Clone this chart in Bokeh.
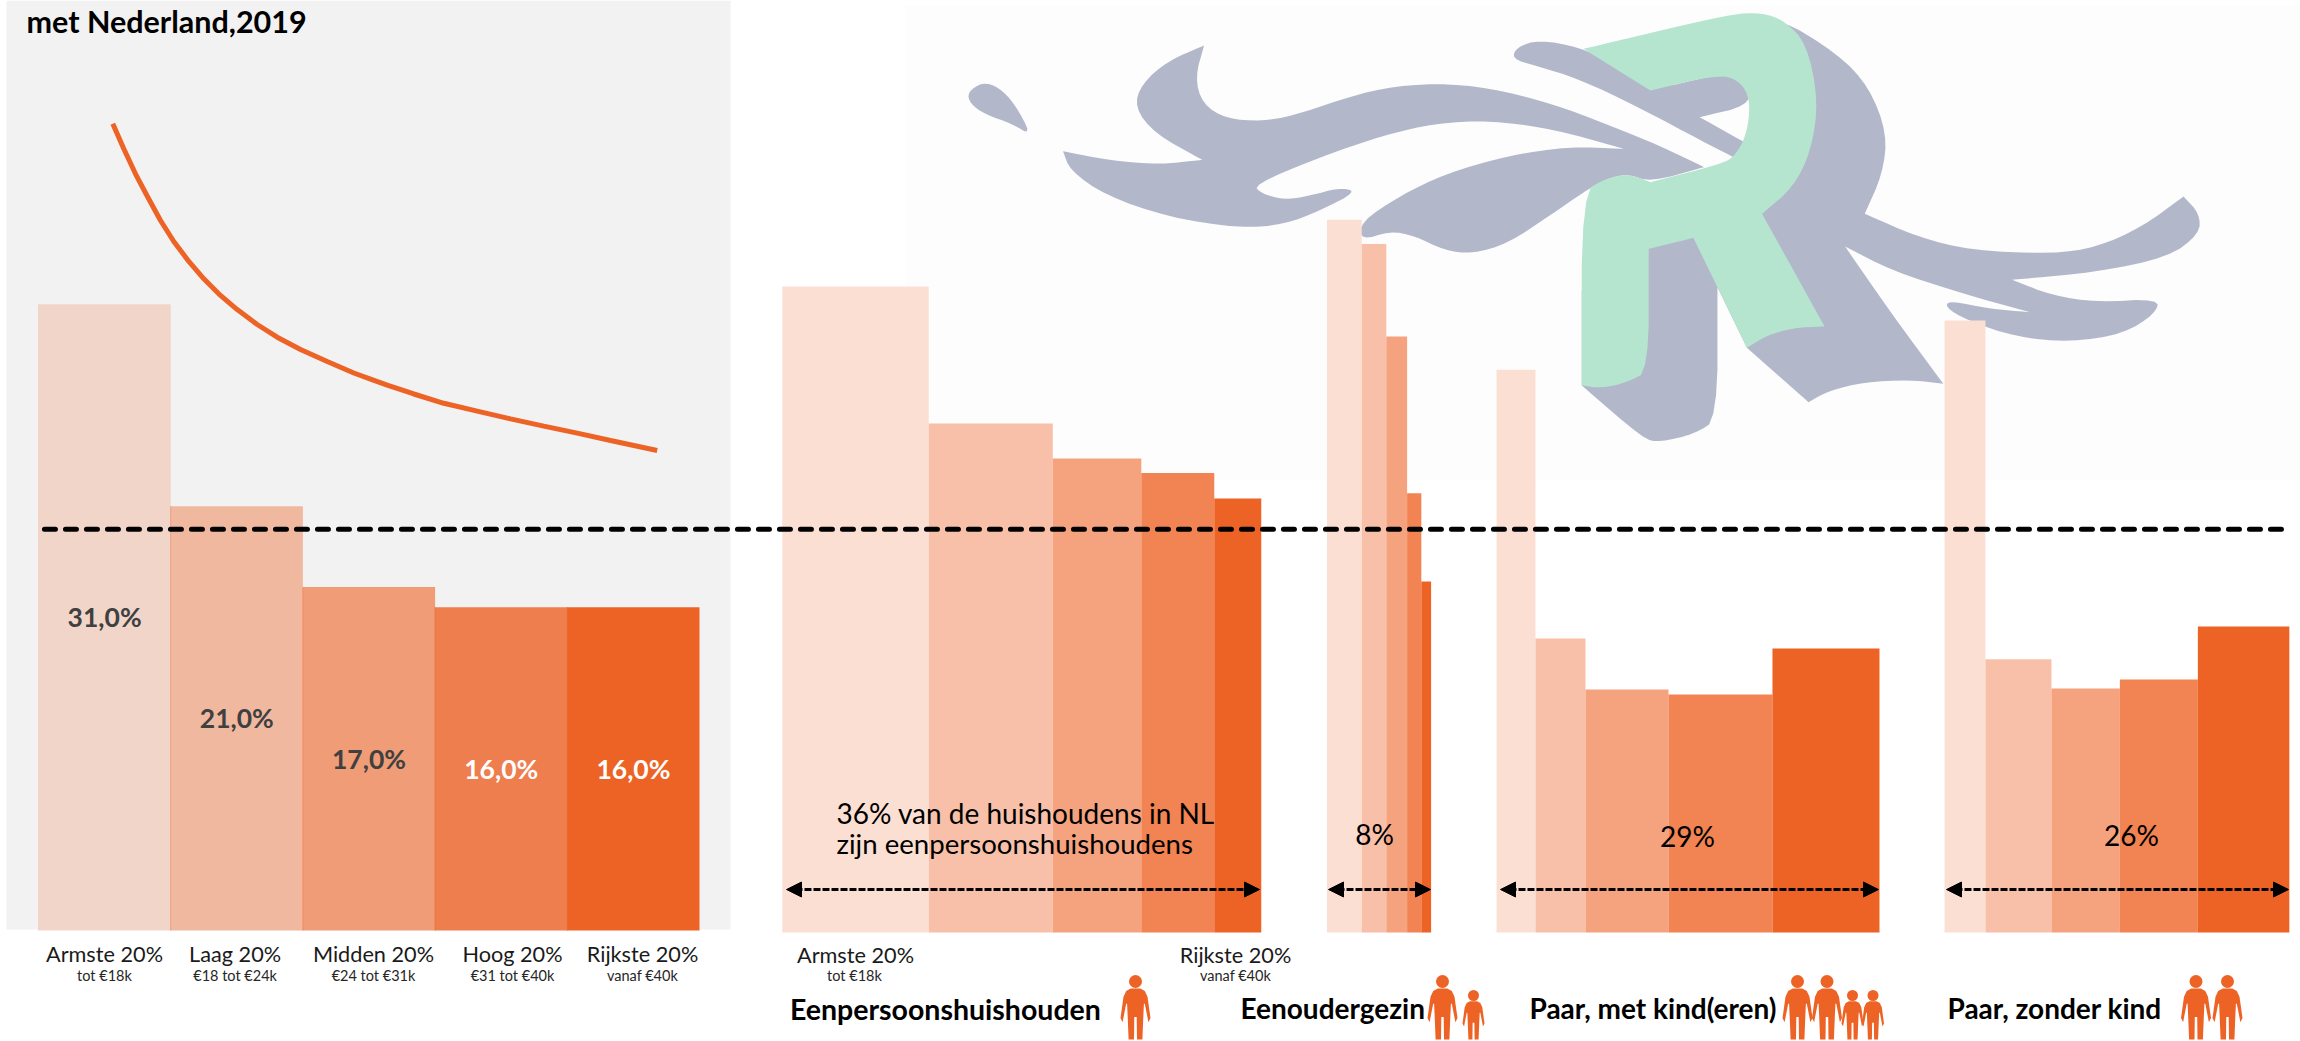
from bokeh.plotting import figure
from bokeh.models import Range1d, Arrow, NormalHead
from bokeh.core.properties import value
from bokeh.embed import file_html
from bokeh.resources import INLINE

# ---------- data ----------
title = "met Nederland,2019"
group_labels = ["Armste 20%", "Laag 20%", "Midden 20%", "Hoog 20%", "Rijkste 20%"]
group_subs = ["tot €18k", "€18 tot €24k", "€24 tot €31k", "€31 tot €40k", "vanaf €40k"]
nl_widths = [20, 20, 20, 20, 20]
nl_values = [31, 21, 17, 16, 16]
nl_value_labels = ["31,0%", "21,0%", "17,0%", "16,0%", "16,0%"]

single_widths = [22.16, 18.76, 13.39, 11.04, 7.11]
single_values = [31.98, 25.20, 23.46, 22.75, 21.49]
parent_widths = [5.25, 3.72, 3.15, 2.15, 1.48]
parent_values = [35.28, 34.09, 29.50, 21.75, 17.38]
kids_widths = [5.90, 7.56, 12.56, 15.73, 16.19]
kids_values = [27.86, 14.55, 12.03, 11.78, 14.06]
couple_widths = [6.20, 9.98, 10.35, 11.80, 13.84]
couple_values = [30.30, 13.53, 12.08, 12.52, 15.15]

curve_x = [11.24, 12.90, 14.67, 16.44, 18.46, 20.47, 22.74, 25.01, 27.53, 30.06, 33.09, 36.11, 39.64, 43.68, 47.70,
           50.23, 52.75, 56.78, 61.32, 66.37, 71.41, 76.44, 81.50, 86.54, 93.60]
curve_y = [39.94, 38.70, 37.46, 36.36, 35.15, 34.11, 33.12, 32.26, 31.44, 30.74, 30.00, 29.37, 28.76, 28.17, 27.60,
           27.30, 27.00, 26.56, 26.10, 25.71, 25.33, 24.97, 24.62, 24.26, 23.76]
average_line = 19.87

panel_names = ["Eenpersoonshuishouden", "Eenoudergezin", "Paar, met kind(eren)", "Paar, zonder kind"]
panel_notes = ["36% van de huishoudens in NL", "zijn eenpersoonshuishoudens", "8%", "29%", "26%"]

# ---------- style / layout ----------
L, T, R, B = 0, 0, 2300, 1041
ORANGE = "#ed6325"
LEFT_COLORS = ["#f2d5c9", "#f1b8a0", "#f09c76", "#ef7e4f", ORANGE]
LEFT_EDGES = ["#f2d5c9", "#ec9f7f", "#ee8a5f", "#ec6f38", ORANGE]
RIGHT_COLORS = ["#fcdfd3", "#f8c0a9", "#f5a27e", "#f28352", ORANGE]
FONT = value("Lato")
PX_X, PX_Y = 6.61, 20.2
BASE_L, BASE_R = 930, 932

p = figure(width=R - L, height=B - T, output_backend="svg", toolbar_location=None,
           x_range=Range1d(L, R), y_range=Range1d(B, T), min_border=0, outline_line_color=None,
           background_fill_color="white", border_fill_color="white")
p.axis.visible = False
p.grid.visible = False

origins = {"nl": 38, "single": 781.8, "parent": 1326.5, "kids": 1496, "couple": 1944}
p.extra_x_ranges = {k: Range1d((L - o) / PX_X, (R - o) / PX_X) for k, o in origins.items()}
p.extra_y_ranges = {
    "nl_y": Range1d((BASE_L - B) / PX_Y, (BASE_L - T) / PX_Y),
    "hh_y": Range1d((BASE_R - B) / PX_Y, (BASE_R - T) / PX_Y),
}

# backgrounds
p.quad(left=[6], right=[730], top=[T], bottom=[929], fill_color="#f2f2f2", line_color=None)
p.quad(left=[905], right=[R], top=[5], bottom=[480], fill_color="#fdfdfd", line_color=None)


# watermark logo
def smooth(pts, n=2):
    for _ in range(n):
        out = []
        for i, a in enumerate(pts):
            b = pts[(i + 1) % len(pts)]
            out.append((0.75 * a[0] + 0.25 * b[0], 0.75 * a[1] + 0.25 * b[1]))
            out.append((0.25 * a[0] + 0.75 * b[0], 0.25 * a[1] + 0.75 * b[1]))
        pts = out
    return [900 + q[0] / 1.12 for q in pts], [q[1] / 3 for q in pts]


logo_gray = [
    [(92, 245), (110, 260), (128, 310), (147, 405), (125, 370), (95, 342), (78, 310), (75, 275)],
    [(340, 135), (340, 135), (330, 230), (338, 310), (365, 355), (405, 362), (440, 345), (490, 300), (540, 262), (600, 248),
     (660, 262), (730, 310), (790, 370), (850, 435), (900, 500), (900, 500), (840, 545), (815, 520), (790, 535), (765, 575),
     (730, 640), (680, 730), (640, 760), (610, 750), (575, 705), (548, 692), (516, 720), (515, 665), (560, 585),
     (610, 520), (680, 465), (750, 438), (810, 445), (810, 445), (730, 385), (660, 360), (600, 368), (540, 405), (470, 470),
     (395, 553), (405, 580), (430, 598), (460, 585), (490, 562), (512, 572), (470, 630), (430, 672), (380, 683),
     (300, 650), (230, 585), (190, 510), (182, 452), (182, 452), (235, 480), (290, 492), (338, 478), (338, 478), (285, 400), (262, 320),
     (270, 250), (300, 180)],
    [(715, 118), (690, 140), (685, 175), (710, 195), (760, 235), (830, 325), (900, 425), (933, 470), (933, 470), (945, 425), (945, 425),
     (895, 350), (895, 350), (950, 315), (950, 260), (930, 225), (915, 222), (840, 270), (800, 190), (760, 140)],
    [(980, 45), (1050, 160), (1085, 260), (1105, 400), (1100, 520), (1080, 640), (1080, 640), (1140, 710), (1200, 750), (1290, 760),
     (1340, 740), (1390, 680), (1437, 588), (1437, 588), (1455, 640), (1455, 700), (1420, 770), (1340, 815), (1245, 838), (1245, 838),
     (1290, 885), (1340, 905), (1410, 895), (1405, 940), (1370, 1000), (1310, 1025), (1250, 1010), (1195, 960),
     (1170, 920), (1175, 900), (1220, 925), (1265, 935), (1265, 935), (1190, 880), (1110, 810), (1058, 738), (1058, 738), (1110, 940),
     (1168, 1150), (1168, 1150), (1130, 1138), (1080, 1145), (1040, 1170), (1017, 1205), (1017, 1205), (948, 1042), (948, 1042), (915, 860), (915, 860),
     (915, 1255), (890, 1300), (850, 1325), (832, 1315), (763, 1155), (763, 1155), (763, 700), (888, 712),
     (965, 640), (1020, 400), (1000, 150)],
]
logo_green = [(765, 145), (765, 145), (930, 40), (965, 37), (990, 60), (1015, 130), (1028, 300), (1020, 450), (1000, 560), (965, 640), (965, 640),
              (1035, 978), (1035, 978), (1000, 982), (970, 1005), (948, 1042), (948, 1042), (888, 712), (888, 712), (838, 745), (838, 745), (838, 1110),
              (815, 1145), (785, 1163), (763, 1155), (763, 1155), (763, 575), (790, 535), (815, 520), (840, 545), (840, 545),
              (920, 490), (935, 465), (948, 400), (952, 300), (940, 240), (915, 222), (840, 270), (840, 270)]
gx, gy = zip(*[smooth(s) for s in logo_gray])
p.patches(list(gx), list(gy), fill_color="#b3b7ca", line_color=None)
gx2, gy2 = smooth(logo_green)
p.patch(gx2, gy2, fill_color="#b5e4cf", line_color=None)


def bars(widths, vals, colors, xname, yname):
    left, acc = [], 0
    for w in widths:
        left.append(acc)
        acc += w
    right = [a + w for a, w in zip(left, widths)]
    p.quad(left=left, right=right, bottom=[0] * len(vals), top=vals, fill_color=colors, line_color=None,
           x_range_name=xname, y_range_name=yname)
    return left, right


nl_left, nl_right = bars(nl_widths, nl_values, LEFT_COLORS, "nl", "nl_y")
p.segment(nl_left, [0] * 5, nl_left, nl_values, line_color=LEFT_EDGES, line_width=1, x_range_name="nl", y_range_name="nl_y")
bars(single_widths, single_values, RIGHT_COLORS, "single", "hh_y")
bars(parent_widths, parent_values, RIGHT_COLORS, "parent", "hh_y")
bars(kids_widths, kids_values, RIGHT_COLORS, "kids", "hh_y")
bars(couple_widths, couple_values, RIGHT_COLORS, "couple", "hh_y")

# value labels in the left bars
p.text([(a + b) / 2 for a, b in zip(nl_left, nl_right)], [v / 2 for v in nl_values], text=nl_value_labels,
       x_range_name="nl", y_range_name="nl_y", text_font=FONT, text_font_style="bold", text_font_size="26.5px",
       text_align="center", text_baseline="middle", text_color=["#404040", "#404040", "#404040", "white", "white"])

# curve and average line
p.line(curve_x, curve_y, x_range_name="nl", y_range_name="nl_y", line_color=ORANGE, line_width=5)
p.line([0.9, 340.4], [average_line, average_line], x_range_name="nl", y_range_name="nl_y",
       line_color="black", line_width=5, line_dash="11 10", line_cap="round")

# arrows
for x0, x1 in [(786, 1259), (1328, 1430), (1500, 1878), (1946, 2288)]:
    p.add_layout(Arrow(x_start=x0, x_end=x1, y_start=889, y_end=889, line_color="black", line_width=3, line_dash="7 2",
                       start=NormalHead(size=15, fill_color="black", line_color="black"),
                       end=NormalHead(size=15, fill_color="black", line_color="black")))


def txt(x, y, s, size, style="normal", align="center", color="black", baseline="middle"):
    p.text([x], [y], text=[s], text_font=FONT, text_font_size=size, text_font_style=style,
           text_align=align, text_baseline=baseline, text_color=color)


# texts
txt(26, 20, title, "30.5px", "bold", "left", baseline="alphabetic")
for x, lab, sub in zip([104, 234.6, 373, 512, 642], group_labels, group_subs):
    txt(x, 953, lab, "21.7px", color="#1a1a1a")
    txt(x, 975, sub, "14.5px", color="#262626")
txt(855, 954, group_labels[0], "21.7px", color="#1a1a1a")
txt(854, 975, group_subs[0], "14.5px", color="#262626")
txt(1235, 954, group_labels[4], "21.7px", color="#1a1a1a")
txt(1235, 975, group_subs[4], "14.5px", color="#262626")

txt(836, 812, panel_notes[0], "28px", align="left")
txt(836, 843, panel_notes[1], "27.6px", align="left")
txt(1374, 833, panel_notes[2], "28px")
txt(1687, 835, panel_notes[3], "28px")
txt(2131, 834, panel_notes[4], "28px")

txt(789.5, 1008, panel_names[0], "28.5px", "bold", "left")
txt(1240, 1007, panel_names[1], "28px", "bold", "left")
txt(1529, 1007, panel_names[2], "28px", "bold", "left")
txt(1947, 1007, panel_names[3], "28px", "bold", "left")

# pictograms
BODY = [(-.32, 0), (.32, 0), (.62, .05), (.8, .16), (1, .58), (.86, .66), (.62, .3), (.56, .3), (.52, .56), (.46, 1), (.1, 1),
        (.08, .56), (-.08, .56), (-.1, 1), (-.46, 1), (-.52, .56), (-.56, .3), (-.62, .3), (-.86, .66), (-1, .58), (-.8, .16), (-.62, .05)]


def person(cx, child=False):
    top, half, head_y, head_r = (1000.7, 11, 995, 5.5) if child else (988, 15, 981, 6.5)
    bottom = 1039
    p.patch([cx + half * a for a, _ in BODY], [top + (bottom - top) * b for _, b in BODY], fill_color=ORANGE, line_color=None)
    p.ellipse([cx], [head_y], width=2 * head_r, height=2 * head_r, fill_color=ORANGE, line_color=None)


for x in [1135, 1442, 1797, 1826.5, 2195.5, 2227]:
    person(x)
for x in [1473, 1852, 1872.5]:
    person(x, child=True)

open("out.html", "w").write(file_html(p, INLINE))
